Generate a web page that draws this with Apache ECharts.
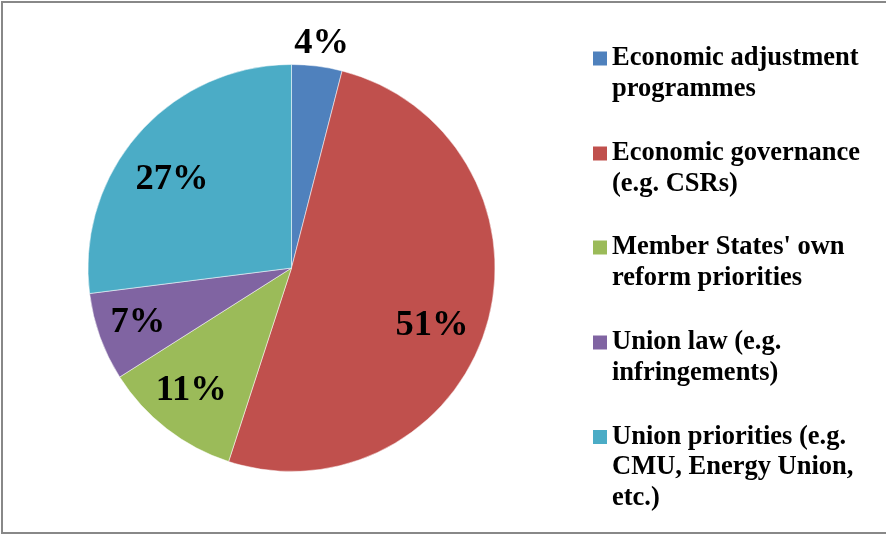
<!DOCTYPE html>
<html>
<head>
<meta charset="utf-8">
<script src="https://cdn.jsdelivr.net/npm/echarts@6/dist/echarts.min.js"></script>
<style>
  html, body { margin: 0; padding: 0; background: #fff; }
  #main { width: 886px; height: 535px; }
</style>
</head>
<body>
<div id="main"></div>
<script>
// data
var categories = [
  'Economic adjustment programmes',
  'Economic governance (e.g. CSRs)',
  "Member States' own reform priorities",
  'Union law (e.g. infringements)',
  'Union priorities (e.g. CMU, Energy Union, etc.)'
]
var legendLines = [
  ['Economic adjustment', 'programmes'],
  ['Economic governance', '(e.g. CSRs)'],
  ["Member States' own", 'reform priorities'],
  ['Union law (e.g.', 'infringements)'],
  ['Union priorities (e.g.', 'CMU, Energy Union,', 'etc.)']
]
var shares = [4, 51, 11, 7, 27]

var colors = ['#4F81BD', '#C0504D', '#9BBB59', '#8064A2', '#4BACC6']
var serif = '"Times New Roman", "Liberation Serif", serif'
var lineH = 30.5

// label nudges (excel best-fit placement)
var labelShift = [[17, -120], [40, 28], [-36, 40], [-55, 19], [-41, -19]]

var seriesData = categories.map(function (name, i) {
  return { name: name, value: shares[i] }
})

// one legend per entry; blank lines above the text keep the
// marker level with the first text line
var firstLineY = [58.5, 153.5, 247.5, 342.5, 437]
var legends = categories.map(function (name, i) {
  var n = legendLines[i].length
  var txt = new Array(n - 1).fill('').concat(legendLines[i]).join('\n')
  return {
    data: [name],
    orient: 'vertical',
    left: 593,
    top: firstLineY[i] - (2 * n - 1) * lineH / 2,
    padding: 0,
    itemWidth: 14,
    itemHeight: 14,
    icon: 'rect',
    itemStyle: { borderWidth: 0 },
    selectedMode: false,
    formatter: function () { return txt },
    textStyle: {
      fontFamily: serif,
      fontWeight: 'bold',
      fontSize: 26.5,
      color: '#000',
      lineHeight: lineH
    }
  }
})

var chart = echarts.init(document.getElementById('main'))
chart.setOption({
  animation: false,
  color: colors,
  graphic: [{
    type: 'rect',
    shape: { x: 2, y: 2, width: 900, height: 531 },
    style: { fill: 'none', stroke: '#888', lineWidth: 2 },
    silent: true
  }],
  legend: legends,
  series: [{
    type: 'pie',
    center: [291.5, 268],
    radius: 203.5,
    startAngle: 90,
    clockwise: true,
    avoidLabelOverlap: false,
    itemStyle: { borderColor: '#fff', borderWidth: 0.5 },
    emphasis: { scale: false },
    label: {
      show: true,
      position: 'inside',
      formatter: '{c}%',
      fontFamily: serif,
      fontWeight: 'bold',
      fontSize: 36.5,
      color: '#000'
    },
    labelLine: { show: false },
    labelLayout: function (p) {
      var s = labelShift[p.dataIndex]
      return { dx: s[0], dy: s[1] }
    },
    data: seriesData
  }]
})
</script>
</body>
</html>
